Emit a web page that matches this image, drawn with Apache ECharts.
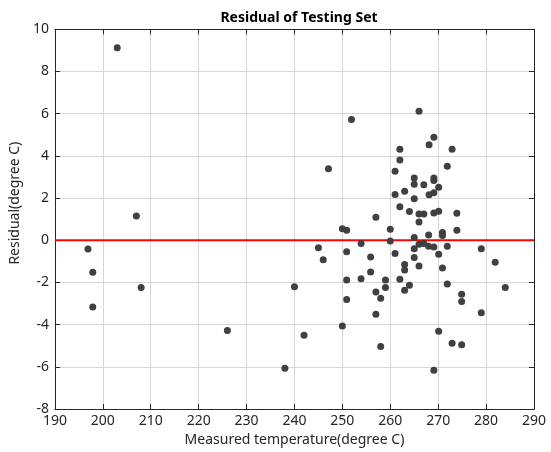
<!DOCTYPE html>
<html>
<head>
<meta charset="utf-8">
<script src="https://cdn.jsdelivr.net/npm/echarts@6/dist/echarts.min.js"></script>
<style>
  html, body { margin: 0; padding: 0; background: #fff; }
  #chart { width: 551px; height: 452px; }
</style>
</head>
<body>
<div id="chart"></div>
<script>
// measured temperature (x) and residual (y) of each test sample
var temps = [
  196.9, 197.9, 197.9, 203.0, 207.0, 208.0, 226.0, 238.0, 240.0, 242.0,
  245.0, 246.0, 247.1, 250.0, 250.9, 250.9, 250.9, 250.9, 250.0, 251.9,
  253.9, 253.9, 255.9, 255.9, 257.0, 257.0, 257.0, 258.0, 258.0, 259.0,
  259.0, 260.0, 260.0, 261.0, 261.0, 261.0, 262.0, 262.0, 262.0, 262.0,
  263.0, 263.0, 263.0, 263.0, 264.0, 264.0, 265.0, 265.0, 265.0, 265.0,
  265.0, 265.0, 266.0, 266.0, 266.0, 266.0, 266.0, 267.0, 267.0, 267.0,
  268.1, 268.1, 268.0, 268.0, 269.1, 269.1, 269.1, 269.1, 269.1, 269.1,
  269.1, 270.1, 270.1, 270.1, 270.1, 270.9, 270.9, 270.9, 271.9, 271.9,
  271.9, 272.9, 272.9, 273.9, 273.9, 274.9, 274.9, 274.9, 279.0, 279.0,
  281.9, 284.0
];
var residuals = [
  -0.41, -1.52, -3.17, 9.13, 1.15, -2.24, -4.28, -6.07, -2.21, -4.50,
  -0.36, -0.93, 3.39, 0.55, 0.47, -0.55, -1.89, -2.81, -4.07, 5.72,
  -0.16, -1.82, -0.79, -1.50, 1.09, -2.45, -3.51, -2.75, -5.04, -1.89,
  -2.24, 0.52, -0.04, 3.27, 2.17, -0.63, 4.31, 3.80, 1.59, -1.85,
  2.32, -1.15, -1.41, -2.37, 1.36, -2.13, 2.95, 2.65, 1.97, 0.13,
  -0.40, -0.82, 6.11, 1.25, 0.86, -0.19, -1.22, 2.63, 1.25, -0.16,
  4.53, 2.16, 0.25, -0.28, 4.88, 2.95, 2.83, 2.25, 1.29, -0.32,
  -6.16, 2.51, 1.38, -0.66, -4.31, 0.37, 0.22, -1.31, 3.51, -0.28,
  -2.08, 4.31, -4.88, 1.28, 0.47, -2.56, -2.90, -4.96, -0.40, -3.44,
  -1.04, -2.24
];
var xRange = [190, 290];
var yRange = [-8, 10];
var zeroLine = [[190, 0], [290, 0]];

var points = [];
for (var i = 0; i < temps.length; i++) {
  points.push([temps[i], residuals[i]]);
}

var font = 'Noto Sans';
var frameColor = '#262626';

function makeX(pos, labels) {
  return {
    type: 'value', position: pos, min: xRange[0], max: xRange[1], interval: 10,
    name: labels ? 'Measured temperature(degree C)' : '',
    nameLocation: 'middle', nameGap: 24,
    nameTextStyle: { fontFamily: font, fontSize: 14, color: '#262626' },
    axisLine: { show: true, onZero: false, lineStyle: { color: frameColor, width: 1 } },
    axisTick: { show: true, inside: true, length: 5, lineStyle: { color: frameColor } },
    axisLabel: { show: labels, fontFamily: font, fontSize: 14, color: '#262626', margin: 5 },
    splitLine: { show: labels, lineStyle: { color: '#d6d6d6', width: 1 } }
  };
}
function makeY(pos, labels) {
  return {
    type: 'value', position: pos, min: yRange[0], max: yRange[1], interval: 2,
    name: labels ? 'Residual(degree C)' : '',
    nameLocation: 'middle', nameGap: 24,
    nameTextStyle: { fontFamily: font, fontSize: 14, color: '#262626', padding: [0, 0, 0, 32] },
    axisLine: { show: true, onZero: false, lineStyle: { color: frameColor, width: 1 } },
    axisTick: { show: true, inside: true, length: 5, lineStyle: { color: frameColor } },
    axisLabel: { show: labels, fontFamily: font, fontSize: 14, color: '#262626', margin: 6 },
    splitLine: { show: labels, lineStyle: { color: '#d6d6d6', width: 1 } }
  };
}

var option = {
  animation: false,
  backgroundColor: '#ffffff',
  title: {
    text: 'Residual of Testing Set',
    left: 294, top: 6, textAlign: 'center',
    textStyle: { fontFamily: font, fontSize: 14, fontWeight: 'bold', color: '#000' }
  },
  grid: { left: 53.5, right: 17, top: 29.3, bottom: 42.7 },
  xAxis: [makeX('bottom', true), makeX('top', false)],
  yAxis: [makeY('left', true), makeY('right', false)],
  series: [
    {
      type: 'line',
      data: zeroLine,
      symbol: 'none',
      lineStyle: { color: '#ff0000', width: 2 },
      z: 2
    },
    {
      type: 'scatter',
      data: points,
      symbol: 'circle',
      symbolSize: 7,
      itemStyle: { color: '#404040', opacity: 1 },
      z: 3
    }
  ]
};

var myChart = echarts.init(document.getElementById('chart'));
myChart.setOption(option);
</script>
</body>
</html>
